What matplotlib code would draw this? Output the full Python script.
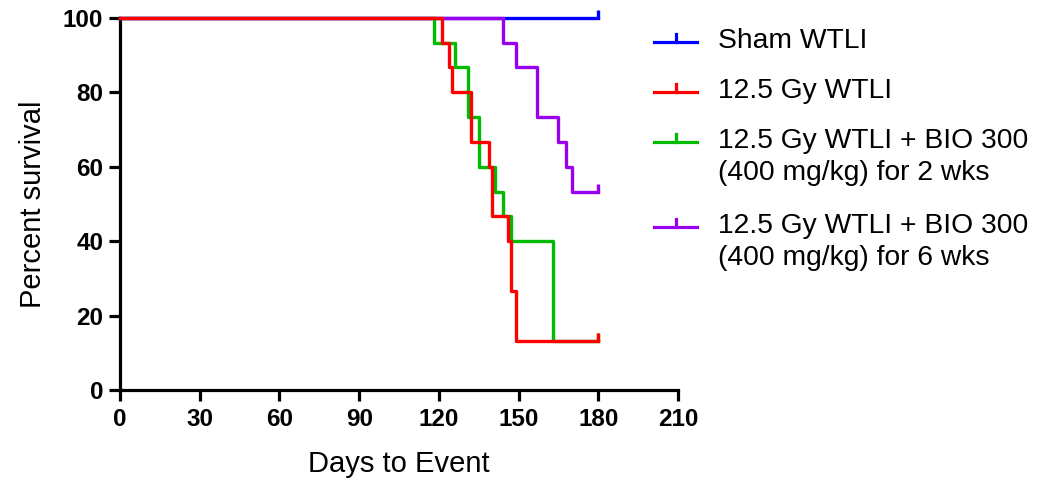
import matplotlib
matplotlib.use("Agg")
import matplotlib.pyplot as plt
from matplotlib.path import Path
from matplotlib.lines import Line2D

plt.rcParams['font.family'] = ['Liberation Sans', 'DejaVu Sans']

# Kaplan-Meier event data (day of drop, survival after drop)
sham_days = [0]
sham_surv = [100.0]

gy_days = [0, 121, 124, 125, 132, 139, 140, 146, 147, 149]
gy_surv = [100.0, 93.3, 86.7, 80.0, 66.7, 60.0, 46.7, 40.0, 26.7, 13.3]

bio2_days = [0, 118, 126, 131, 135, 141, 144, 147, 163]
bio2_surv = [100.0, 93.3, 86.7, 73.3, 60.0, 53.3, 46.7, 40.0, 13.3]

bio6_days = [0, 144, 149, 157, 165, 168, 170]
bio6_surv = [100.0, 93.3, 86.7, 73.3, 66.7, 60.0, 53.3]

end_day = 180

labels = ["Sham WTLI", "12.5 Gy WTLI",
          "12.5 Gy WTLI + BIO 300\n(400 mg/kg) for 2 wks",
          "12.5 Gy WTLI + BIO 300\n(400 mg/kg) for 6 wks"]
colors = ["#0000ff", "#ff0000", "#00bb00", "#9900ee"]

xticks = [0, 30, 60, 90, 120, 150, 180, 210]
yticks = [0, 20, 40, 60, 80, 100]

cens_marker = Path([(0, 0), (0, 1)], [Path.MOVETO, Path.LINETO])

W, H = 1050, 490
fig = plt.figure(figsize=(W / 100, H / 100), dpi=100)
ax = fig.add_axes([120 / W, 1 - 390 / H, 558 / W, 372 / H])

series = [(sham_days, sham_surv), (bio6_days, bio6_surv),
          (bio2_days, bio2_surv), (gy_days, gy_surv)]
cols = [colors[0], colors[3], colors[2], colors[1]]
for (d, s), c in zip(series, cols):
    dd = list(d) + [end_day]
    ss = list(s) + [s[-1]]
    ax.step(dd, ss, where='post', color=c, lw=2.4, clip_on=False, zorder=3)
    ax.plot([end_day], [s[-1]], linestyle='none', marker=cens_marker,
            ms=12, mew=2.4, color=c, clip_on=False, zorder=3)

ax.set_xlim(0, 210)
ax.set_ylim(0, 100)
ax.set_xticks(xticks)
ax.set_yticks(yticks)
for sp in ['top', 'right']:
    ax.spines[sp].set_visible(False)
for sp in ['left', 'bottom']:
    ax.spines[sp].set_linewidth(2.3)
    ax.spines[sp].set_color('black')
ax.tick_params(axis='both', direction='out', length=8, width=2.3,
               labelsize=17.5)
ax.tick_params(axis='x', pad=5)
ax.tick_params(axis='y', pad=4)
for lab in ax.get_xticklabels() + ax.get_yticklabels():
    lab.set_fontweight('bold')

ax.set_xlabel("Days to Event", fontsize=21)
ax.set_ylabel("Percent survival", fontsize=21)
ax.xaxis.set_label_coords(0.5, -(450 - 390) / 372)
ax.yaxis.set_label_coords((47 - 120) / 558, 0.5)

# legend drawn manually (handle aligned with first text line)
leg_y = [42, 92, 142, 227]
for lab, c, y in zip(labels, colors, leg_y):
    yf = 1 - y / H
    fig.add_artist(Line2D([654 / W, 697 / W], [yf, yf], color=c, lw=2.3,
                          transform=fig.transFigure))
    fig.add_artist(Line2D([675.5 / W, 675.5 / W], [yf, yf + 8 / H], color=c,
                          lw=2.3, transform=fig.transFigure))
    fig.text(718 / W, yf + 14 / H, lab, fontsize=20.3, ha='left', va='top',
             linespacing=1.28)

fig.savefig("out.png", dpi=100)
